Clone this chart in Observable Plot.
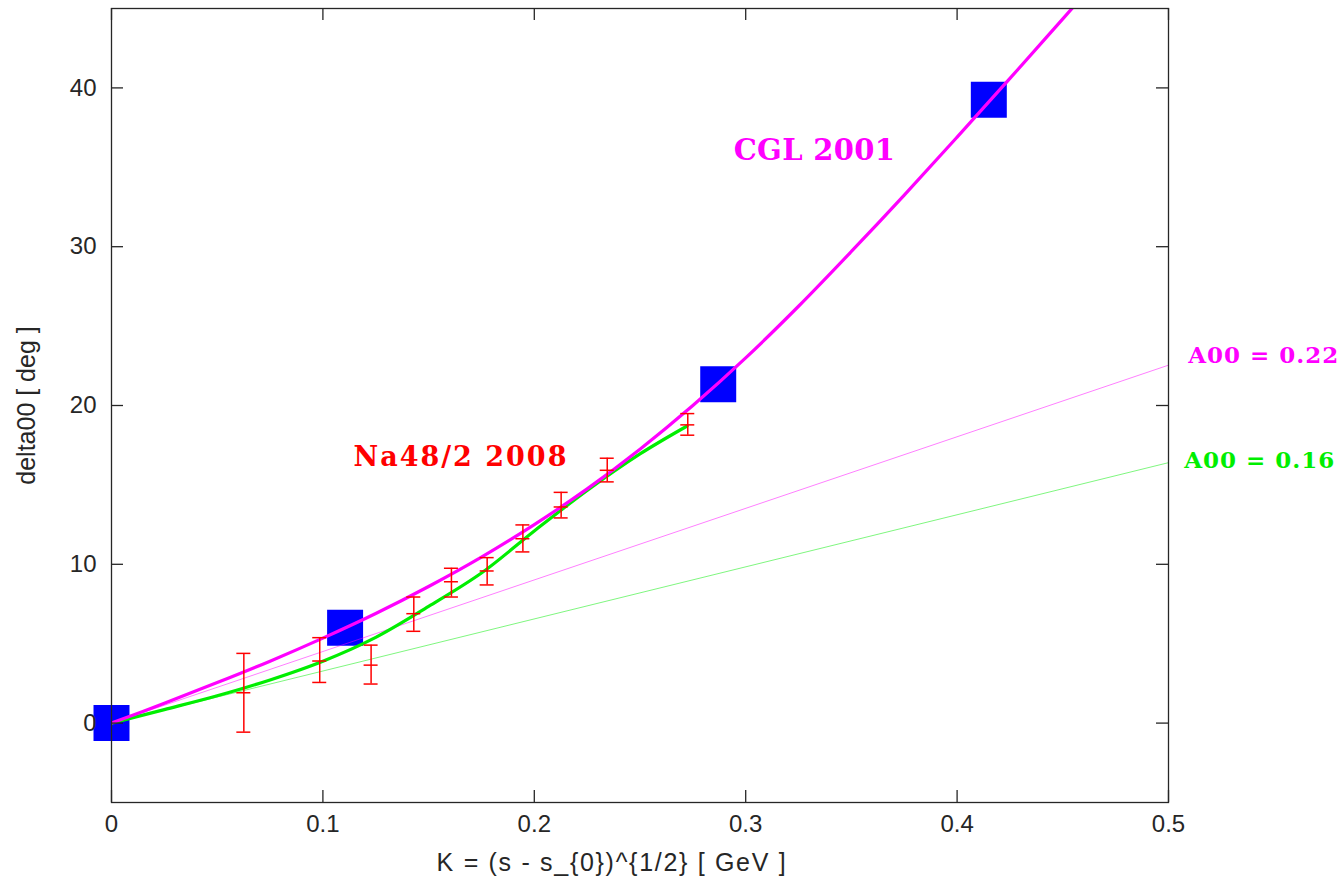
<!DOCTYPE html>
<html>
<head>
<meta charset="utf-8">
<script src="https://cdn.jsdelivr.net/npm/d3@7"></script>
<script src="https://cdn.jsdelivr.net/npm/@observablehq/plot@0.6"></script>
<style>
  html, body { margin: 0; padding: 0; background: #fff; }
  #chart { width: 1344px; height: 881px; }
</style>
</head>
<body>
<div id="chart"></div>
<script>
// ---- data ----
const xTicks = [0, 0.1, 0.2, 0.3, 0.4, 0.5];
const yTicks = [0, 10, 20, 30, 40];

// CGL 2001 prediction points (blue squares)
const cglPointK = [0, 0.1105, 0.287, 0.415];
const cglPointDelta = [0, 6.0, 21.34, 39.25];

// CGL 2001 curve (magenta)
const cglCurveK = [0, 0.025, 0.05, 0.075, 0.1, 0.125, 0.15, 0.175, 0.2, 0.225, 0.25, 0.275, 0.3, 0.325, 0.35, 0.375, 0.4, 0.425, 0.45, 0.475];
const cglCurveDelta = [0, 1.25, 2.55, 3.9, 5.35, 6.9, 8.6, 10.45, 12.5, 14.75, 17.25, 20.0, 23.0, 26.25, 29.7, 33.25, 36.9, 40.6, 44.35, 48.1];

// NA48/2 fit curve (green)
const naCurveK = [0, 0.025, 0.05, 0.075, 0.1, 0.125, 0.15, 0.175, 0.2, 0.225, 0.25, 0.2723];
const naCurveDelta = [0, 0.85, 1.72, 2.72, 3.9, 5.4, 7.35, 9.45, 12.1, 14.65, 16.95, 18.71];

// NA48/2 2008 data with error bars
const naK = [0.0626, 0.0985, 0.1228, 0.143, 0.1608, 0.1777, 0.1946, 0.2127, 0.2345, 0.2726];
const naDelta = [1.91, 3.91, 3.65, 6.89, 8.9, 9.58, 11.61, 13.61, 15.92, 18.78];
const naLow = [-0.57, 2.56, 2.46, 5.78, 7.94, 8.70, 10.78, 12.92, 15.19, 18.13];
const naHigh = [4.39, 5.38, 4.91, 7.94, 9.75, 10.42, 12.48, 14.53, 16.68, 19.49];

// linear references
const lineK = [0, 0.5];
const lineA022 = [0, 22.54];
const lineA016 = [0, 16.40];

// annotations
const annotText = ["CGL 2001", "Na48/2 2008", "A00 = 0.22", "A00 = 0.16"];
const annotK = [0.3325, 0.1653, 0.5093, 0.5074];
const annotDelta = [36.04, 16.72, 23.17, 16.55];

const xLabel = "K = (s - s_{0})^{1/2} [ GeV ]";
const yLabel = "delta00 [ deg ]";

// ---- build tables ----
const cglPoints = cglPointK.map((k, i) => ({k, d: cglPointDelta[i]}));
const cglCurve = cglCurveK.map((k, i) => ({k, d: cglCurveDelta[i]}));
const naCurve = naCurveK.map((k, i) => ({k, d: naCurveDelta[i]}));
const naData = naK.map((k, i) => ({k, d: naDelta[i], lo: naLow[i], hi: naHigh[i]}));
const line22 = lineK.map((k, i) => ({k, d: lineA022[i]}));
const line16 = lineK.map((k, i) => ({k, d: lineA016[i]}));
const annots = annotText.map((t, i) => ({t, k: annotK[i], d: annotDelta[i]}));

const W = 1344, H = 881;
const mL = 111, mR = 176, mT = 8, mB = 79;
const plotW = W - mL - mR, plotH = H - mT - mB;

const MAG = "#ff00ff", GRN = "#00ee00", RED = "#ff0000", BLUE = "#0000ff", AX = "#262626";
const serif = "'DejaVu Serif', serif";

const chart = Plot.plot({
  width: W, height: H,
  marginLeft: mL, marginRight: mR, marginTop: mT, marginBottom: mB,
  x: {domain: [0, 0.5]},
  y: {domain: [-5, 45]},
  style: {fontFamily: "'Liberation Sans', Arial, sans-serif", fontSize: "24px", background: "#fff", color: AX},
  marks: [
    // blue squares
    Plot.dot(cglPoints, {x: "k", y: "d", symbol: "square", r: 20.3, fill: BLUE, stroke: "none"}),
    // thin reference lines
    Plot.line(line22, {x: "k", y: "d", stroke: MAG, strokeWidth: 1, strokeOpacity: 0.5, clip: true}),
    Plot.line(line16, {x: "k", y: "d", stroke: GRN, strokeWidth: 1, strokeOpacity: 0.5, clip: true}),
    // curves
    Plot.line(naCurve, {x: "k", y: "d", stroke: GRN, strokeWidth: 3.2, curve: "catmull-rom", clip: true}),
    Plot.line(cglCurve, {x: "k", y: "d", stroke: MAG, strokeWidth: 3.2, curve: "catmull-rom", clip: true}),
    // error bars
    Plot.ruleX(naData, {x: "k", y1: "lo", y2: "hi", stroke: RED, strokeWidth: 1.5}),
    Plot.ruleY(naData, {y: "lo", x1: "k", x2: "k", insetLeft: -7, insetRight: -7, stroke: RED, strokeWidth: 1.5}),
    Plot.ruleY(naData, {y: "hi", x1: "k", x2: "k", insetLeft: -7, insetRight: -7, stroke: RED, strokeWidth: 1.5}),
    Plot.ruleY(naData, {y: "d", x1: "k", x2: "k", insetLeft: -7, insetRight: -7, stroke: RED, strokeWidth: 1.5}),
    // frame and inward ticks
    Plot.frame({stroke: AX, strokeWidth: 1.3}),
    Plot.tickX(xTicks, {x: d => d, insetTop: plotH - 12, stroke: AX, strokeWidth: 1.3}),
    Plot.tickX(xTicks, {x: d => d, insetBottom: plotH - 12, stroke: AX, strokeWidth: 1.3}),
    Plot.tickY(yTicks, {y: d => d, insetRight: plotW - 12, stroke: AX, strokeWidth: 1.3}),
    Plot.tickY(yTicks, {y: d => d, insetLeft: plotW - 12, stroke: AX, strokeWidth: 1.3}),
    // axes (labels only)
    Plot.axisX(xTicks, {tickSize: 0, tickPadding: 12, tickFormat: d => String(d), label: null, fill: AX}),
    Plot.axisY(yTicks, {tickSize: 0, tickPadding: 15, label: null, fill: AX}),
    // axis titles
    Plot.text([xLabel], {text: d => d, frameAnchor: "bottom", textAnchor: "middle", lineAnchor: "middle", dy: 60, dx: -28, fontSize: 25, fill: AX}),
    Plot.text([yLabel], {text: d => d, frameAnchor: "left", textAnchor: "middle", lineAnchor: "middle", dx: -85, rotate: -90, fontSize: 25, fill: AX}),
    // annotations
    Plot.text(annots.slice(0, 1), {x: "k", y: "d", text: "t", fill: MAG, fontFamily: serif, fontWeight: "bold", fontSize: 29, textAnchor: "middle"}),
    Plot.text(annots.slice(1, 2), {x: "k", y: "d", text: "t", fill: RED, fontFamily: serif, fontWeight: "bold", fontSize: 27, textAnchor: "middle"}),
    Plot.text(annots.slice(2, 3), {x: "k", y: "d", text: "t", fill: MAG, fontFamily: serif, fontWeight: "bold", fontSize: 23, textAnchor: "start"}),
    Plot.text(annots.slice(3, 4), {x: "k", y: "d", text: "t", fill: GRN, fontFamily: serif, fontWeight: "bold", fontSize: 23, textAnchor: "start"})
  ]
});
// letter spacing tweaks
const spacing = {[xLabel]: "1.7", "Na48/2 2008": "2", "A00 = 0.22": "1", "A00 = 0.16": "1", "CGL 2001": "0.3"};
chart.querySelectorAll("text").forEach(t => {
  const s = spacing[t.textContent];
  if (s) t.setAttribute("letter-spacing", s);
});
document.getElementById("chart").appendChild(chart);
</script>
</body>
</html>
